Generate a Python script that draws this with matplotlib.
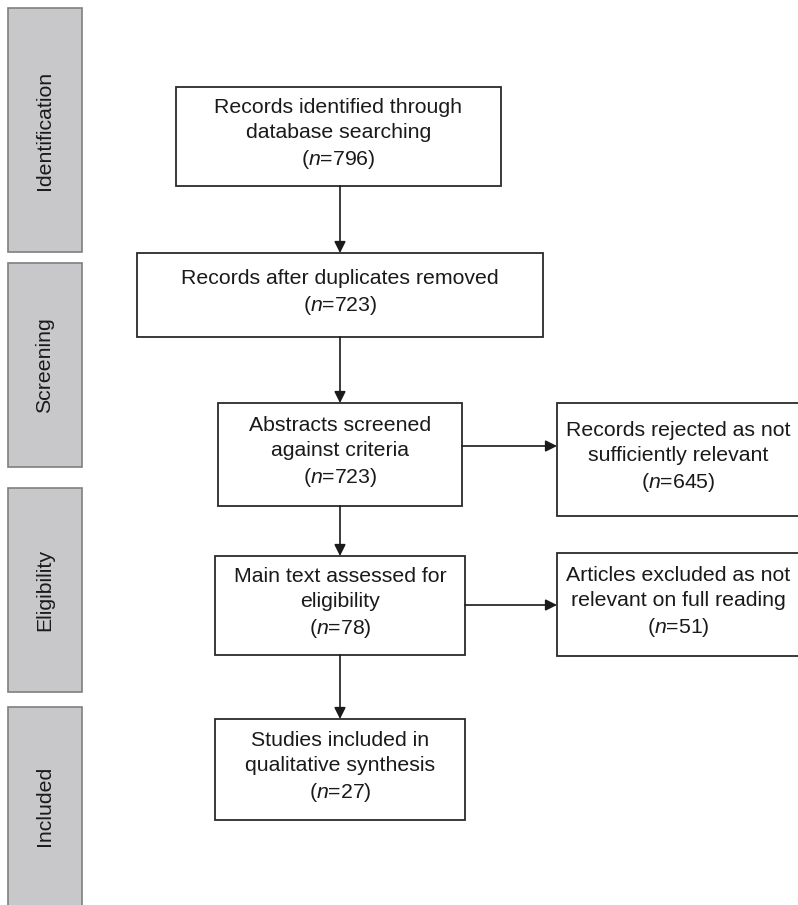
import matplotlib
matplotlib.use('Agg')
import matplotlib.pyplot as plt
from matplotlib.patches import Rectangle

plt.rcParams['font.family'] = ['Liberation Sans', 'DejaVu Sans']
plt.rcParams['mathtext.fontset'] = 'custom'
plt.rcParams['mathtext.rm'] = 'Liberation Sans'
plt.rcParams['mathtext.it'] = 'Liberation Sans:italic'

# PRISMA stages and counts
stages = ['Identification', 'Screening', 'Eligibility', 'Included']
main_labels = ['Records identified through\ndatabase searching',
               'Records after duplicates removed',
               'Abstracts screened\nagainst criteria',
               'Main text assessed for\neligibility',
               'Studies included in\nqualitative synthesis']
main_counts = [796, 723, 723, 78, 27]
excluded_labels = ['Records rejected as not\nsufficiently relevant',
                   'Articles excluded as not\nrelevant on full reading']
excluded_counts = [645, 51]
excluded_from = [2, 3]  # index of main box each exclusion branches from

# layout in pixel coordinates (x0, y0, x1, y1)
stage_boxes = [(8, 8, 82, 252), (8, 263, 82, 467), (8, 488, 82, 692), (8, 707, 82, 910)]
main_boxes = [(176, 87, 501, 186), (137, 253, 543, 337), (218, 403, 462, 506),
              (215, 556, 465, 655), (215, 719, 465, 820)]
excl_boxes = [(557, 403, 810, 516), (557, 553, 810, 656)]
excl_arrow_y = [446, 605]
cx = 340

fig = plt.figure(figsize=(7.98, 9.05), dpi=100)
ax = fig.add_axes([0, 0, 1, 1])
ax.set_xlim(0, 798)
ax.set_ylim(905, 0)
ax.axis('off')

fs = 15.3


def label(txt, n):
    return txt + '\n(' + r'$\mathit{n}$' + '=' + str(n) + ')'


for name, (x0, y0, x1, y1) in zip(stages, stage_boxes):
    ax.add_patch(Rectangle((x0, y0), x1 - x0, y1 - y0, facecolor='#c8c8ca',
                           edgecolor='#7f7f7f', lw=1.2))
    ax.text((x0 + x1) / 2, (y0 + min(y1, 905)) / 2, name, rotation=90,
            ha='center', va='center', fontsize=fs, color='#1a1a1a')

for txt, n, (x0, y0, x1, y1) in zip(main_labels, main_counts, main_boxes):
    ax.add_patch(Rectangle((x0, y0), x1 - x0, y1 - y0, facecolor='white',
                           edgecolor='#2a2a2a', lw=1.3))
    ax.text((x0 + x1) / 2, (y0 + y1) / 2 - 2, label(txt, n), ha='center', va='center',
            fontsize=fs, color='#1a1a1a', linespacing=1.4)

for txt, n, (x0, y0, x1, y1) in zip(excluded_labels, excluded_counts, excl_boxes):
    ax.add_patch(Rectangle((x0, y0), x1 - x0, y1 - y0, facecolor='white',
                           edgecolor='#2a2a2a', lw=1.3))
    ax.text((x0 + 798) / 2 + 1, (y0 + y1) / 2 - 2, label(txt, n), ha='center', va='center',
            fontsize=fs, color='#1a1a1a', linespacing=1.4)

arrow = dict(arrowstyle='-|>', color='#1a1a1a', lw=1.2, mutation_scale=17,
             shrinkA=0, shrinkB=0)
for a, b in zip(main_boxes[:-1], main_boxes[1:]):
    ax.annotate('', xy=(cx, b[1]), xytext=(cx, a[3]), arrowprops=arrow)

for i, y, eb in zip(excluded_from, excl_arrow_y, excl_boxes):
    ax.annotate('', xy=(eb[0], y), xytext=(main_boxes[i][2], y), arrowprops=arrow)

fig.savefig('out.png', dpi=100)
